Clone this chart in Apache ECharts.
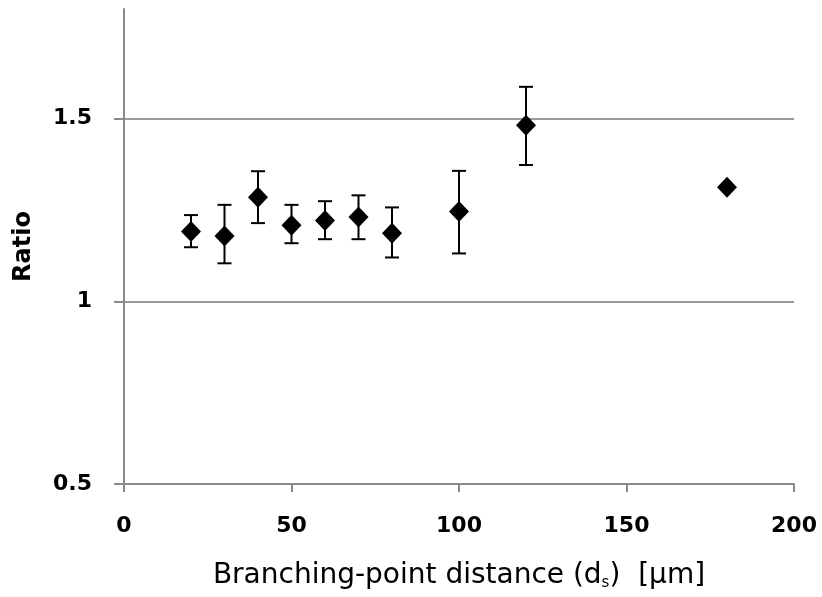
<!DOCTYPE html>
<html>
<head>
<meta charset="utf-8">
<title>Ratio vs branching-point distance</title>
<script src="https://cdn.jsdelivr.net/npm/echarts@6/dist/echarts.min.js"></script>
<style>
  html, body { margin: 0; padding: 0; background: #fff; }
  #container { width: 822px; height: 597px; }
</style>
</head>
<body>
<div id="container"></div>
<script>
// data
var distance = [20, 30, 40, 50, 60, 70, 80, 100, 120, 180];
var ratio    = [1.191, 1.179, 1.285, 1.208, 1.221, 1.231, 1.186, 1.246, 1.482, 1.312];
var errHigh  = [1.236, 1.264, 1.356, 1.264, 1.274, 1.290, 1.257, 1.357, 1.587, null];
var errLow   = [1.148, 1.104, 1.214, 1.159, 1.170, 1.170, 1.120, 1.131, 1.373, null];

var points = [];
var bars = [];
for (var i = 0; i < distance.length; i++) {
  points.push([distance[i], ratio[i]]);
  if (errHigh[i] != null) bars.push([distance[i], errLow[i], errHigh[i]]);
}

var axisGray = '#8a8a8a';
var labelFont = { color: '#000', fontSize: 22, fontWeight: 'bold', fontFamily: 'DejaVu Sans' };

var myChart = echarts.init(document.getElementById('container'));
var option = {
  animation: false,
  grid: { left: 124, right: 28, top: 9, bottom: 113 },
  xAxis: {
    type: 'value',
    min: 0, max: 200, interval: 50,
    name: 'Branching-point distance (d{sub|s})  [μm]',
    nameLocation: 'middle',
    nameGap: 76,
    nameTextStyle: {
      fontFamily: 'DejaVu Sans', fontSize: 28, color: '#000',
      rich: { sub: { fontFamily: 'DejaVu Sans', fontSize: 15, color: '#000', verticalAlign: 'bottom', padding: [16, 0, 0, 0] } }
    },
    axisLine: { lineStyle: { color: axisGray, width: 2 } },
    axisTick: { length: 8, lineStyle: { color: axisGray, width: 2 } },
    axisLabel: Object.assign({ margin: 31 }, labelFont),
    splitLine: { show: false }
  },
  yAxis: {
    type: 'value',
    min: 0.5, max: 1.8, interval: 0.5,
    name: 'Ratio',
    nameLocation: 'middle',
    nameGap: 88,
    nameTextStyle: { fontFamily: 'DejaVu Sans', fontSize: 24, fontWeight: 'bold', color: '#000' },
    axisLine: { show: true, lineStyle: { color: axisGray, width: 2 } },
    axisTick: { show: true, length: 10, lineStyle: { color: axisGray, width: 2 } },
    axisLabel: Object.assign({ margin: 32, showMaxLabel: false }, labelFont),
    splitLine: { show: true, showMinLine: false, showMaxLine: false, lineStyle: { color: '#999', width: 2 } }
  },
  series: [
    {
      type: 'custom',
      data: bars,
      z: 3,
      renderItem: function (params, api) {
        var x = api.value(0);
        var lo = api.coord([x, api.value(1)]);
        var hi = api.coord([x, api.value(2)]);
        var cap = 7;
        var style = { stroke: '#000', lineWidth: 2 };
        return {
          type: 'group',
          children: [
            { type: 'line', shape: { x1: lo[0], y1: lo[1], x2: hi[0], y2: hi[1] }, style: style },
            { type: 'line', shape: { x1: lo[0] - cap, y1: lo[1], x2: lo[0] + cap, y2: lo[1] }, style: style },
            { type: 'line', shape: { x1: hi[0] - cap, y1: hi[1], x2: hi[0] + cap, y2: hi[1] }, style: style }
          ]
        };
      }
    },
    {
      type: 'scatter',
      data: points,
      z: 4,
      symbol: 'diamond',
      symbolSize: [20, 21],
      itemStyle: { color: '#000', opacity: 1 }
    }
  ]
};
myChart.setOption(option);
</script>
</body>
</html>
